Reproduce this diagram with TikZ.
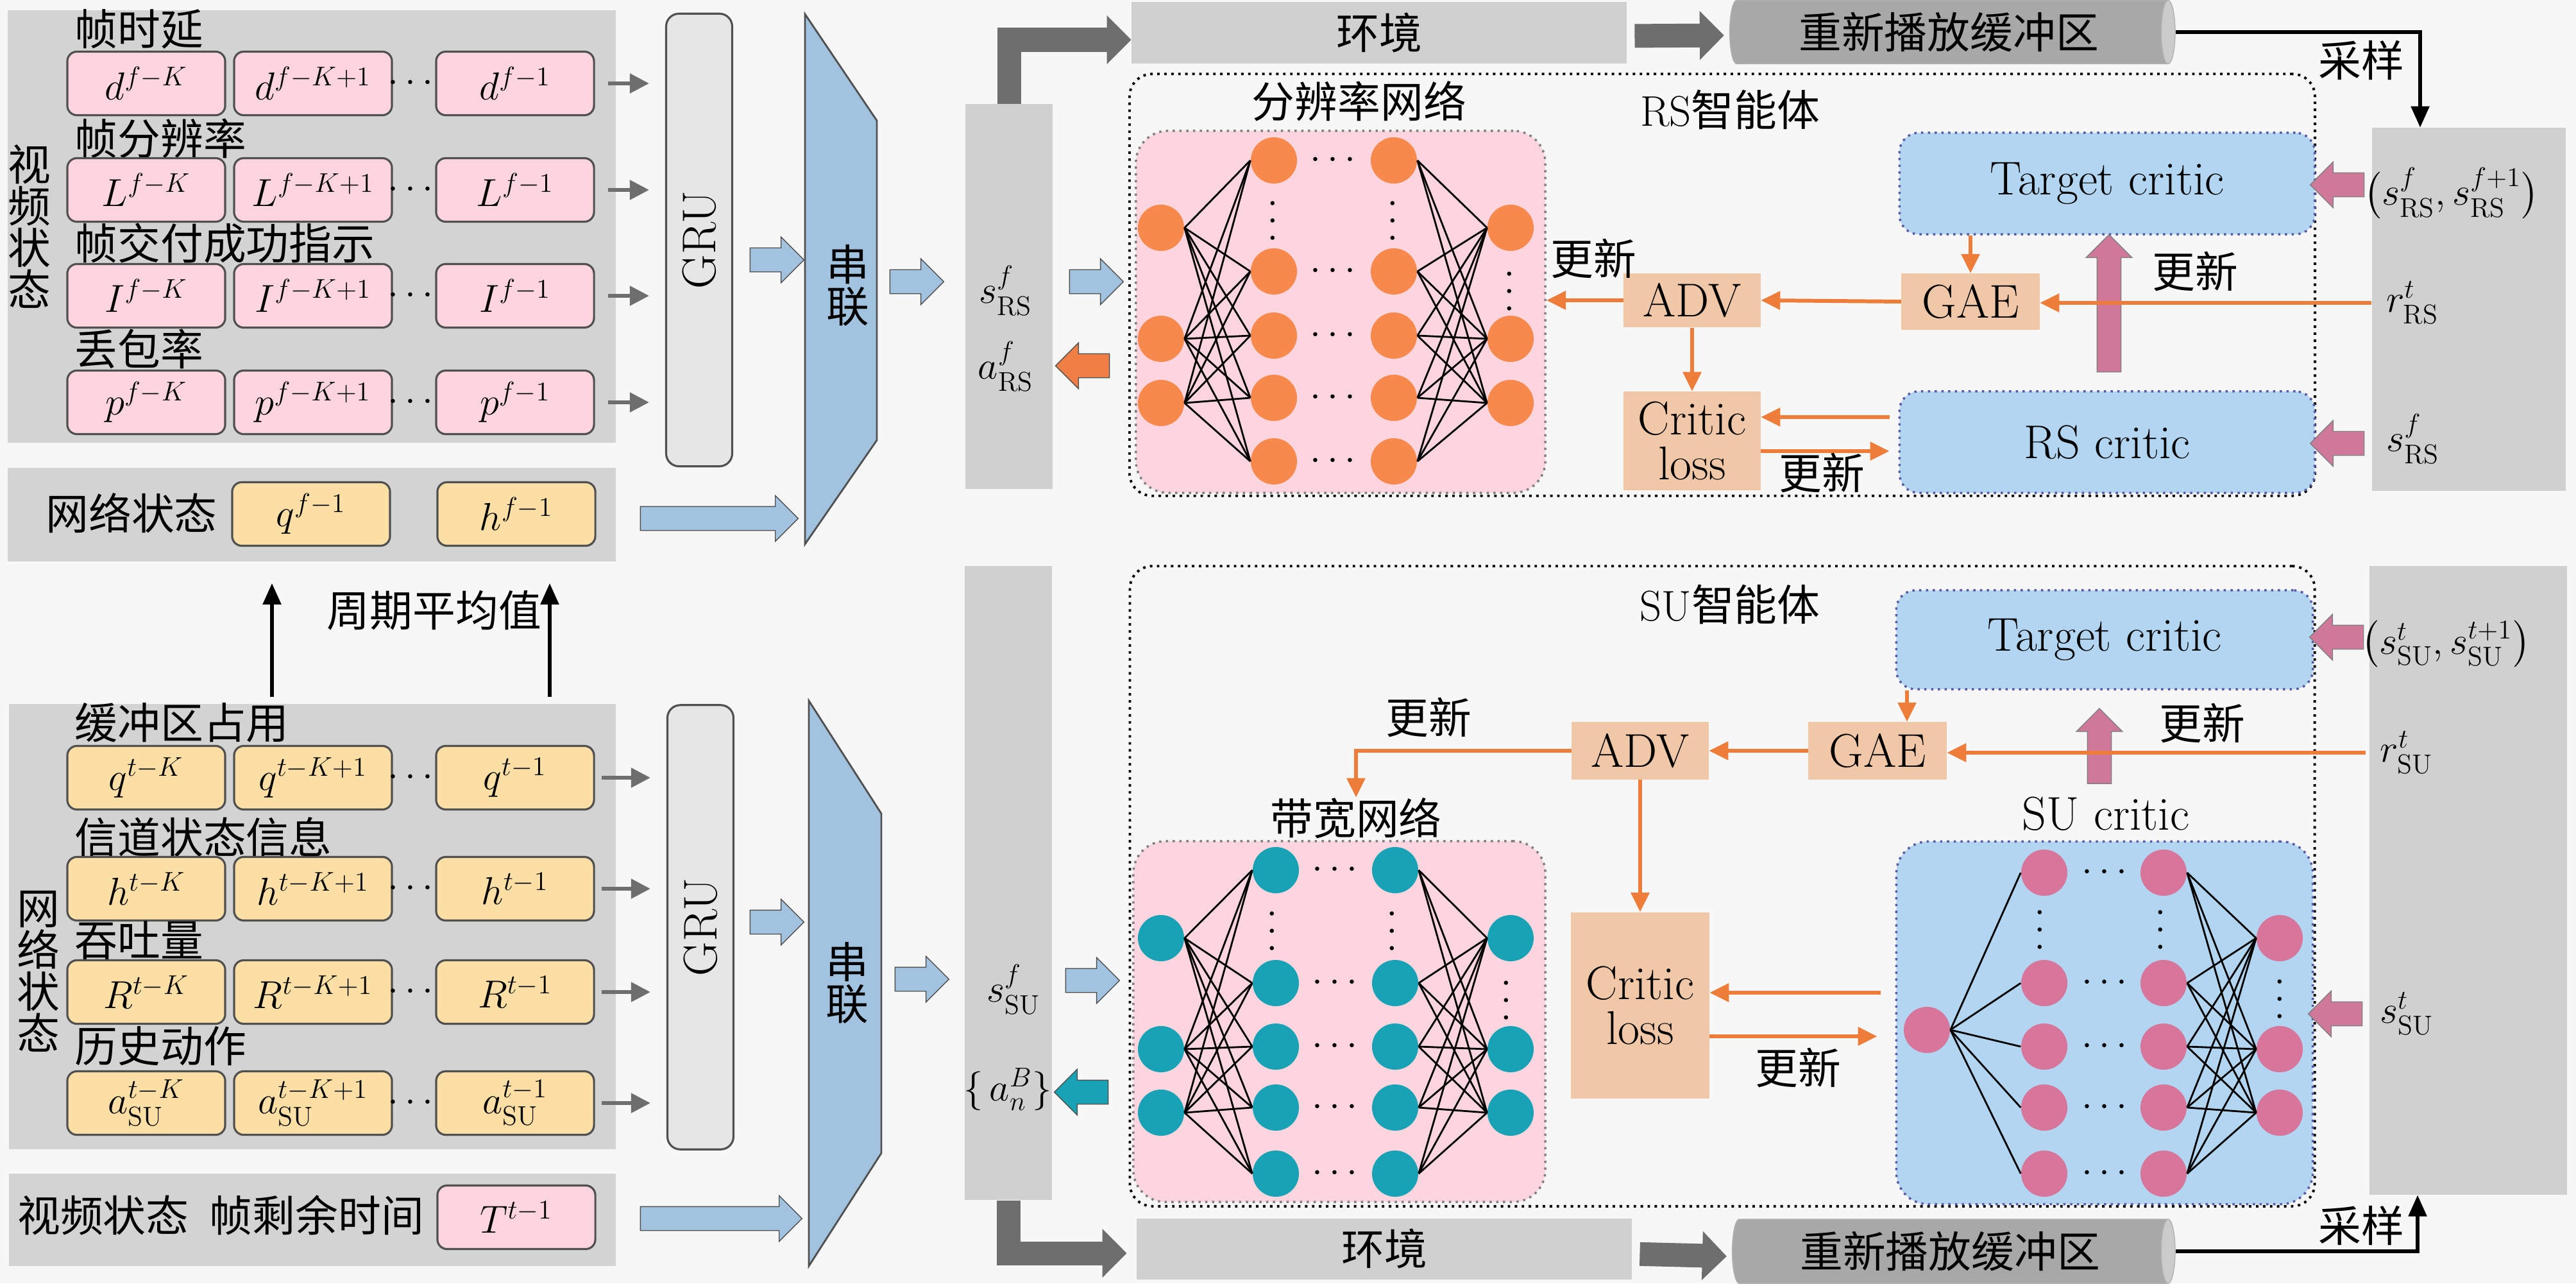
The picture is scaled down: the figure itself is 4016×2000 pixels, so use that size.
\documentclass[tikz,border=0pt]{standalone}
\usepackage{amsmath}
\usepackage{fontspec}
\newfontfamily\cjk{Noto Sans CJK SC}
\usetikzlibrary{arrows.meta,shapes.arrows,shapes.geometric,calc}
\DeclareMathSizes{19}{17.28}{12}{8}

\definecolor{bgc}{HTML}{F7F7F7}
\definecolor{panelc}{HTML}{D3D3D3}
\definecolor{colc}{HTML}{D0D0D0}
\definecolor{gruc}{HTML}{E6E6E6}
\definecolor{linec}{HTML}{505050}
\definecolor{pinkc}{HTML}{FDD5DF}
\definecolor{yelc}{HTML}{FCDFA5}
\definecolor{catc}{HTML}{A2C3DF}
\definecolor{darkc}{HTML}{6E6E6E}
\definecolor{bufc}{HTML}{A8A8A8}
\definecolor{tanc}{HTML}{F0C8A8}
\definecolor{orc}{HTML}{EE7D3A}
\definecolor{orfill}{HTML}{F07F45}
\definecolor{lbluec}{HTML}{B2D6F2}
\definecolor{orn}{HTML}{F7894C}
\definecolor{tealn}{HTML}{17A3B5}
\definecolor{pinkn}{HTML}{D8759A}
\definecolor{pinka}{HTML}{D0789A}

\begin{document}
\fontsize{19}{23}\selectfont
\begin{tikzpicture}[x=0.01cm, y=-0.01cm,
		panel/.style = {fill=panelc, inner sep=0},
		pbox/.style  = {draw=linec, fill=pinkc, rounded corners=0.15cm, line width=0.9pt,
			minimum width=2.46cm, minimum height=0.99cm, inner sep=0},
		ybox/.style  = {pbox, fill=yelc},
		ttl/.style   = {font=\cjk, anchor=west, inner sep=0},
		vtl/.style   = {font=\cjk\fontsize{19}{18.5}\selectfont, align=center, inner sep=0},
		zh/.style    = {font=\cjk, inner sep=0},
		lat/.style   = {font=\fontsize{21}{20}\selectfont},
		dots/.style  = {inner sep=0},
		gru/.style   = {draw=linec, fill=gruc, rounded corners=0.2cm, line width=0.9pt, minimum width=1.03cm},
		cat/.style   = {draw=linec, fill=catc, line width=0.8pt},
		feed/.style  = {draw=darkc, line width=1.6pt, -{Triangle[length=0.3cm,width=0.3cm]}, shorten >=0.25cm},
		avg/.style   = {draw=black, line width=1.5pt, -{Triangle[length=0.33cm,width=0.28cm]}},
		barr/.style  = {single arrow, draw=linec, fill=catc, inner xsep=0, inner ysep=0.18cm,
			single arrow head extend=0.17cm, minimum height=0.84cm},
		parr/.style  = {barr, fill=pinka, draw=gray, shape border rotate=180},
		uarr/.style  = {parr, shape border rotate=90, inner xsep=0.18cm, inner ysep=0},
		garr/.style  = {draw=darkc, line width=0.37cm, line join=miter, -{Triangle[length=0.38cm,width=0.74cm]}},
		buf/.style   = {cylinder, shape aspect=0.35, cylinder uses custom fill, cylinder body fill=bufc,
			cylinder end fill=bufc!60, draw=gray!60, inner sep=0, font=\cjk},
		samp/.style  = {draw=black, line width=1.5pt, -{Triangle[length=0.33cm,width=0.28cm]}},
		agent/.style = {draw=black, dotted, line width=1.1pt, rounded corners=0.35cm, inner sep=0},
		netbox/.style= {draw=gray, dotted, line width=1pt, rounded corners=0.5cm, inner sep=0},
		crit/.style  = {lat, fill=lbluec, draw=gray!70!blue, dotted, line width=1pt, rounded corners=0.3cm, inner sep=0},
		tan/.style   = {lat, fill=tanc, inner sep=0},
		closs/.style = {tan, align=center},
		oarr/.style  = {draw=orc, line width=1.7pt, -{Triangle[length=0.3cm,width=0.28cm]}},
		rsn/.style   = {circle, fill=orn, minimum size=0.72cm, inner sep=0},
		bwn/.style   = {rsn, fill=tealn},
		crn/.style   = {rsn, fill=pinkn},
		edge/.style  = {draw=black, line width=0.8pt}
		]
		\useasboundingbox (0,0) rectangle (4016,2000);
		\fill[bgc] (0,0) rectangle (4016,2000);
		
		% video state panel
		\node[panel, minimum width=9.47cm, minimum height=6.74cm] (vpanel) at (486,353) {};
		\node[panel, minimum width=9.47cm, minimum height=1.45cm] (nrow)   at (486,802) {};
		\node[vtl] (vlab) at (46,353) {视\\频\\状\\态};
		
		\node[ttl]  (t1) at (116,45) {帧时延};
		\node[pbox] (d1) at (228,130) {$d^{f-K}$};
		\node[pbox] (d2) at (488,130) {$d^{f-K+1}$};
		\node[pbox] (d3) at (803,130) {$d^{f-1}$};
		\node[dots] (dd) at (645,130) {$\cdots$};
		
		\node[ttl]  (t2) at (116,216) {帧分辨率};
		\node[pbox] (l1) at (228,296) {$L^{f-K}$};
		\node[pbox] (l2) at (488,296) {$L^{f-K+1}$};
		\node[pbox] (l3) at (803,296) {$L^{f-1}$};
		\node[dots] (ld) at (645,296) {$\cdots$};
		
		\node[ttl]  (t3) at (116,379) {帧交付成功指示};
		\node[pbox] (i1) at (228,461) {$I^{f-K}$};
		\node[pbox] (i2) at (488,461) {$I^{f-K+1}$};
		\node[pbox] (i3) at (803,461) {$I^{f-1}$};
		\node[dots] (id) at (645,461) {$\cdots$};
		
		\node[ttl]  (t4) at (116,544) {丢包率};
		\node[pbox] (p1) at (228,627) {$p^{f-K}$};
		\node[pbox] (p2) at (488,627) {$p^{f-K+1}$};
		\node[pbox] (p3) at (803,627) {$p^{f-1}$};
		\node[dots] (pd) at (645,627) {$\cdots$};
		
		\node[zh]   (nlab) at (205,800) {网络状态};
		\node[ybox] (q0)   at (485,801) {$q^{f-1}$};
		\node[ybox] (h0)   at (805,801) {$h^{f-1}$};
		
		\node[gru, minimum height=7.05cm] (gru1) at (1090,374) {};
		\node[lat, rotate=90] (grut1) at (gru1) {GRU};
		\draw[feed] ([xshift=0.2cm]d3.east) -- (d3.east -| gru1.west);
		\draw[feed] ([xshift=0.2cm]l3.east) -- (l3.east -| gru1.west);
		\draw[feed] ([xshift=0.2cm]i3.east) -- (i3.east -| gru1.west);
		\draw[feed] ([xshift=0.2cm]p3.east) -- (p3.east -| gru1.west);
		
		\draw[cat] (1255,22) -- (1367,188) -- (1367,686) -- (1255,848) -- cycle;
		\node[vtl] (cat1) at (1322,445) {串\\联};
		\node[barr] (a1) at (1202,405) {};
		\node[barr, minimum height=2.46cm] (a2) at (1112,808) {};
		\node[barr] (a3) at (1420,439) {};
		
		% RS state column
		\node[panel, fill=colc, minimum width=1.36cm, minimum height=5.99cm] (rscol) at (1573,462) {};
		\node (srs) at (1568,453) {$s^{f}_{\mathrm{RS}}$};
		\node (ars) at (1568,571) {$a^{f}_{\mathrm{RS}}$};
		\node[barr] (a4) at (1700,439) {};
		\node[barr, fill=orfill, shape border rotate=180] (a5) at (1697,570) {};
		
		\node[panel, fill=colc, minimum width=7.71cm, minimum height=0.96cm, font=\cjk] (env1) at (2150,51) {环境};
		\node[buf, minimum height=6.94cm, minimum width=0.99cm] (buf1) at (3038,50) {重新播放缓冲区};
		\draw[garr] (rscol.north) |- ([yshift=-0.11cm]env1.west);
		\draw[garr, shorten <=0.12cm, shorten >=0.08cm] ([yshift=-0.05cm]env1.east) -- ([yshift=-0.05cm]buf1.west);
		
		% RS agent
		\node[agent, minimum width=18.47cm, minimum height=6.57cm] (rsag) at (2685,444) {};
		\node (rsagl) at (2697,171) {RS{\cjk 智能体}};
		\node[zh] (rsl) at (2119,158) {分辨率网络};
		\node[netbox, fill=pinkc, minimum width=6.38cm, minimum height=5.64cm] (rsnet) at (2090,486) {};
		
		\foreach \y [count=\i] in {355,528,628} {
			\node[rsn] (ra\i) at (1810,\y) {};
			\node[rsn] (rd\i) at (2355,\y) {};
		}
		\foreach \y [count=\i] in {250,423,523,620,719} {
			\node[rsn] (rb\i) at (1986,\y) {};
			\node[rsn] (rc\i) at (2173,\y) {};
			\node[dots] (rh\i) at (2083,\y) {$\cdots$};
		}
		\node[dots, rotate=90] (rv1) at (1986,339) {$\cdots$};
		\node[dots, rotate=90] (rv2) at (2173,339) {$\cdots$};
		\node[dots, rotate=90] (rv3) at (2355,449) {$\cdots$};
		\foreach \i in {1,2,3} \foreach \j in {1,...,5} {
			\draw[edge] (ra\i.east) -- (rb\j.west);
			\draw[edge] (rc\j.east) -- (rd\i.west);
		}
		
		\node[tan, minimum width=2.13cm, minimum height=0.84cm] (adv1) at (2638,468) {ADV};
		\node[closs, minimum width=2.13cm, minimum height=1.53cm] (cl1) at (2638,687) {Critic\\loss};
		\node[tan, minimum width=2.15cm, minimum height=0.87cm] (gae1) at (3072,470) {GAE};
		\node[crit, minimum width=6.47cm, minimum height=1.58cm] (tc1) at (3285,286) {Target critic};
		\node[crit, minimum width=6.47cm, minimum height=1.58cm] (rsc) at (3285,689) {RS critic};
		
		\node[panel, fill=colc, minimum width=3.02cm, minimum height=5.65cm] (rsin) at (3849,482) {};
		\node (rsp)  at (3822,301) {$\big(s^{f}_{\mathrm{RS}}, s^{f+1}_{\mathrm{RS}}\big)$};
		\node (rrs)  at (3761,472) {$r^{t}_{\mathrm{RS}}$};
		\node (srs2) at (3762,684) {$s^{f}_{\mathrm{RS}}$};
		\node[parr] (pa1) at (3653,288) {};
		\node[parr] (pa2) at (3653,691) {};
		\node[uarr, minimum height=2.14cm] (pa3) at (3288,482) {};
		
		\draw[oarr] (gae1.west) -- (adv1.east);
		\draw[oarr] (adv1.west) -- (adv1.west -| rsnet.east);
		\draw[oarr] (adv1.south) -- (cl1.north);
		\draw[oarr] (gae1.north |- tc1.south) -- (gae1.north);
		\draw[oarr] (rrs.west) -- (rrs.west -| gae1.east);
		\draw[oarr, shorten <=0.14cm] ($(rsc.west |- cl1.east)+(0,-37)$) -- ($(cl1.east)+(0,-37)$);
		\draw[oarr, shorten >=0.14cm] ($(cl1.east)+(0,16)$) -- ($(rsc.west |- cl1.east)+(0,16)$);
		\node[zh] (u1) at (2484,403) {更新};
		\node[zh] (u2) at (2840,737) {更新};
		\node[zh] (u3) at (3422,423) {更新};
		
		\node[zh] (smp1) at (3681,94) {采样};
		\draw[samp] (buf1.east) -| ($(rsin.north)+(-76,0)$);
		
		% network state panel
		\node[zh] (avgl) at (677,951) {周期平均值};
		\coordinate (m1) at (424,909);
		\coordinate (m2) at (857,909);
		\node[panel, minimum width=9.46cm, minimum height=6.93cm] (npanel) at (487,1444) {};
		\node[panel, minimum width=9.46cm, minimum height=1.44cm] (trow)   at (487,1901) {};
		\draw[avg] (m1 |- npanel.north) ++(0,-11) -- (m1);
		\draw[avg] (m2 |- npanel.north) ++(0,-11) -- (m2);
		\node[vtl] (nlab2) at (60,1514) {网\\络\\状\\态};
		
		\node[ttl]  (s1) at (116,1126) {缓冲区占用};
		\node[ybox] (q1) at (228,1212) {$q^{t-K}$};
		\node[ybox] (q2) at (488,1212) {$q^{t-K+1}$};
		\node[ybox] (q3) at (803,1212) {$q^{t-1}$};
		\node[dots] (qd) at (645,1212) {$\cdots$};
		
		\node[ttl]  (s2) at (116,1305) {信道状态信息};
		\node[ybox] (h1) at (228,1385) {$h^{t-K}$};
		\node[ybox] (h2) at (488,1385) {$h^{t-K+1}$};
		\node[ybox] (h3) at (803,1385) {$h^{t-1}$};
		\node[dots] (hd) at (645,1385) {$\cdots$};
		
		\node[ttl]  (s3) at (116,1466) {吞吐量};
		\node[ybox] (R1) at (228,1546) {$R^{t-K}$};
		\node[ybox] (R2) at (488,1546) {$R^{t-K+1}$};
		\node[ybox] (R3) at (803,1546) {$R^{t-1}$};
		\node[dots] (Rd) at (645,1546) {$\cdots$};
		
		\node[ttl]  (s4) at (116,1630) {历史动作};
		\node[ybox] (b1) at (228,1719) {$a^{t-K}_{\mathrm{SU}}$};
		\node[ybox] (b2) at (488,1719) {$a^{t-K+1}_{\mathrm{SU}}$};
		\node[ybox] (b3) at (803,1719) {$a^{t-1}_{\mathrm{SU}}$};
		\node[dots] (bd) at (645,1719) {$\cdots$};
		
		\node[zh]   (vs2) at (161,1894) {视频状态};
		\node[zh]   (rem) at (494,1894) {帧剩余时间};
		\node[pbox] (T1)  at (805,1897) {$T^{t-1}$};
		
		\node[gru, minimum height=6.92cm] (gru2) at (1092,1445) {};
		\node[lat, rotate=90] (grut2) at (gru2) {GRU};
		\draw[feed] ([xshift=0.1cm]q3.east) -- (q3.east -| gru2.west);
		\draw[feed] ([xshift=0.1cm]h3.east) -- (h3.east -| gru2.west);
		\draw[feed] ([xshift=0.1cm]R3.east) -- (R3.east -| gru2.west);
		\draw[feed] ([xshift=0.1cm]b3.east) -- (b3.east -| gru2.west);
		
		\draw[cat] (1261,1092) -- (1374,1268) -- (1374,1797) -- (1261,1973) -- cycle;
		\node[vtl] (cat2) at (1321,1532) {串\\联};
		\node[barr] (c1) at (1202,1437) {};
		\node[barr, minimum height=2.52cm] (c2) at (1115,1899) {};
		\node[barr] (c3) at (1428,1526) {};
		
		% SU state column
		\node[panel, fill=colc, minimum width=1.35cm, minimum height=9.87cm] (sucol) at (1572,1376) {};
		\node (ssu) at (1580,1542) {$s^{f}_{\mathrm{SU}}$};
		\node[inner sep=0] (asu) at (1571,1698) {$\{\,a^{B}_{n}\}$};
		\node[barr] (c4) at (1694,1528) {};
		\node[barr, fill=tealn, shape border rotate=180] (c5) at (1695,1702) {};
		
		\node[panel, fill=colc, minimum width=7.71cm, minimum height=0.95cm, font=\cjk] (env2) at (2158,1946) {环境};
		\node[buf, minimum height=6.9cm, minimum width=1.0cm] (buf2) at (3040,1950) {重新播放缓冲区};
		\draw[garr, shorten >=0.15cm] (sucol.south) |- ([yshift=-0.07cm]env2.west);
		\draw[garr, shorten <=0.12cm, shorten >=0.08cm] ([yshift=-0.08cm]env2.east) -- ([yshift=-0.08cm]buf2.west);
		
		% SU agent
		\node[agent, minimum width=18.46cm, minimum height=9.97cm] (suag) at (2685,1381) {};
		\node (suagl) at (2697,942) {SU{\cjk 智能体}};
		\node[zh] (bwl) at (2114,1275) {带宽网络};
		\node[netbox, fill=pinkc, minimum width=6.42cm, minimum height=5.62cm] (bwnet) at (2088,1592) {};
		
		\foreach \y [count=\i] in {1462,1635,1734} {
			\node[bwn] (ba\i) at (1810,\y) {};
			\node[bwn] (bd\i) at (2355,\y) {};
		}
		\foreach \y [count=\i] in {1356,1532,1631,1726,1829} {
			\node[bwn] (bb\i) at (1989,\y) {};
			\node[bwn] (bc\i) at (2175,\y) {};
			\node[dots] (bh\i) at (2086,\y) {$\cdots$};
		}
		\node[dots, rotate=90] (bv1) at (1985,1446) {$\cdots$};
		\node[dots, rotate=90] (bv2) at (2172,1446) {$\cdots$};
		\node[dots, rotate=90] (bv3) at (2350,1554) {$\cdots$};
		\foreach \i in {1,2,3} \foreach \j in {1,...,5} {
			\draw[edge] (ba\i.east) -- (bb\j.west);
			\draw[edge] (bc\j.east) -- (bd\i.west);
		}
		
		\node[tan, minimum width=2.13cm, minimum height=0.89cm] (adv2) at (2557,1170) {ADV};
		\node[closs, minimum width=2.15cm, minimum height=2.9cm] (cl2) at (2557,1567) {Critic\\loss};
		\node[tan, minimum width=2.15cm, minimum height=0.89cm] (gae2) at (2927,1170) {GAE};
		\node[crit, minimum width=6.49cm, minimum height=1.54cm] (tc2) at (3281,997) {Target critic};
		\node[lat] (sucl) at (3283,1268) {SU critic};
		\node[crit, rounded corners=0.5cm, minimum width=6.49cm, minimum height=5.65cm] (suc) at (3281,1594) {};
		
		\node[crn] (ca1) at (3004,1605) {};
		\foreach \y [count=\i] in {1462,1635,1734} {
			\node[crn] (cd\i) at (3554,\y) {};
		}
		\foreach \y [count=\i] in {1360,1532,1631,1726,1829} {
			\node[crn] (cb\i) at (3187,\y) {};
			\node[crn] (cc\i) at (3373,\y) {};
			\node[dots] (ch\i) at (3286,\y) {$\cdots$};
		}
		\node[dots, rotate=90] (cv1) at (3182,1444) {$\cdots$};
		\node[dots, rotate=90] (cv2) at (3370,1444) {$\cdots$};
		\node[dots, rotate=90] (cv3) at (3556,1552) {$\cdots$};
		\foreach \j in {1,...,5} {
			\draw[edge] (ca1.east) -- (cb\j.west);
		}
		\foreach \i in {1,2,3} \foreach \j in {1,...,5} {
			\draw[edge] (cc\j.east) -- (cd\i.west);
		}
		
		\node[panel, fill=colc, minimum width=3.08cm, minimum height=9.79cm] (suin) at (3848,1372) {};
		\node (sup)  at (3813,1004) {$\big(s^{t}_{\mathrm{SU}}, s^{t+1}_{\mathrm{SU}}\big)$};
		\node (rsu)  at (3752,1173) {$r^{t}_{\mathrm{SU}}$};
		\node (ssu2) at (3752,1580) {$s^{t}_{\mathrm{SU}}$};
		\node[parr] (pb1) at (3652,993) {};
		\node[parr] (pb2) at (3650,1580) {};
		\node[uarr, minimum height=1.17cm] (pb3) at (3273,1172) {};
		
		\draw[oarr] (gae2.west) -- (adv2.east);
		\draw[oarr] (adv2.west) -| (bwl.north);
		\draw[oarr] (adv2.south) -- (cl2.north);
		\draw[oarr] ($(gae2.north |- tc2.south)+(46,0)$) -- ($(gae2.north)+(46,0)$);
		\draw[oarr] (rsu.west) -- (rsu.west -| gae2.east);
		\draw[oarr, shorten <=0.23cm] ($(suc.west |- cl2.east)+(0,-20)$) -- ($(cl2.east)+(0,-20)$);
		\draw[oarr, shorten >=0.28cm] ($(cl2.east)+(0,48)$) -- ($(suc.west |- cl2.east)+(0,48)$);
		\node[zh] (u4) at (2227,1118) {更新};
		\node[zh] (u5) at (2803,1664) {更新};
		\node[zh] (u6) at (3433,1127) {更新};
		
		\node[zh] (smp2) at (3681,1910) {采样};
		\draw[samp] (buf2.east) -| ($(suin.south)+(-79,0)$);
	\end{tikzpicture}
\end{document}
